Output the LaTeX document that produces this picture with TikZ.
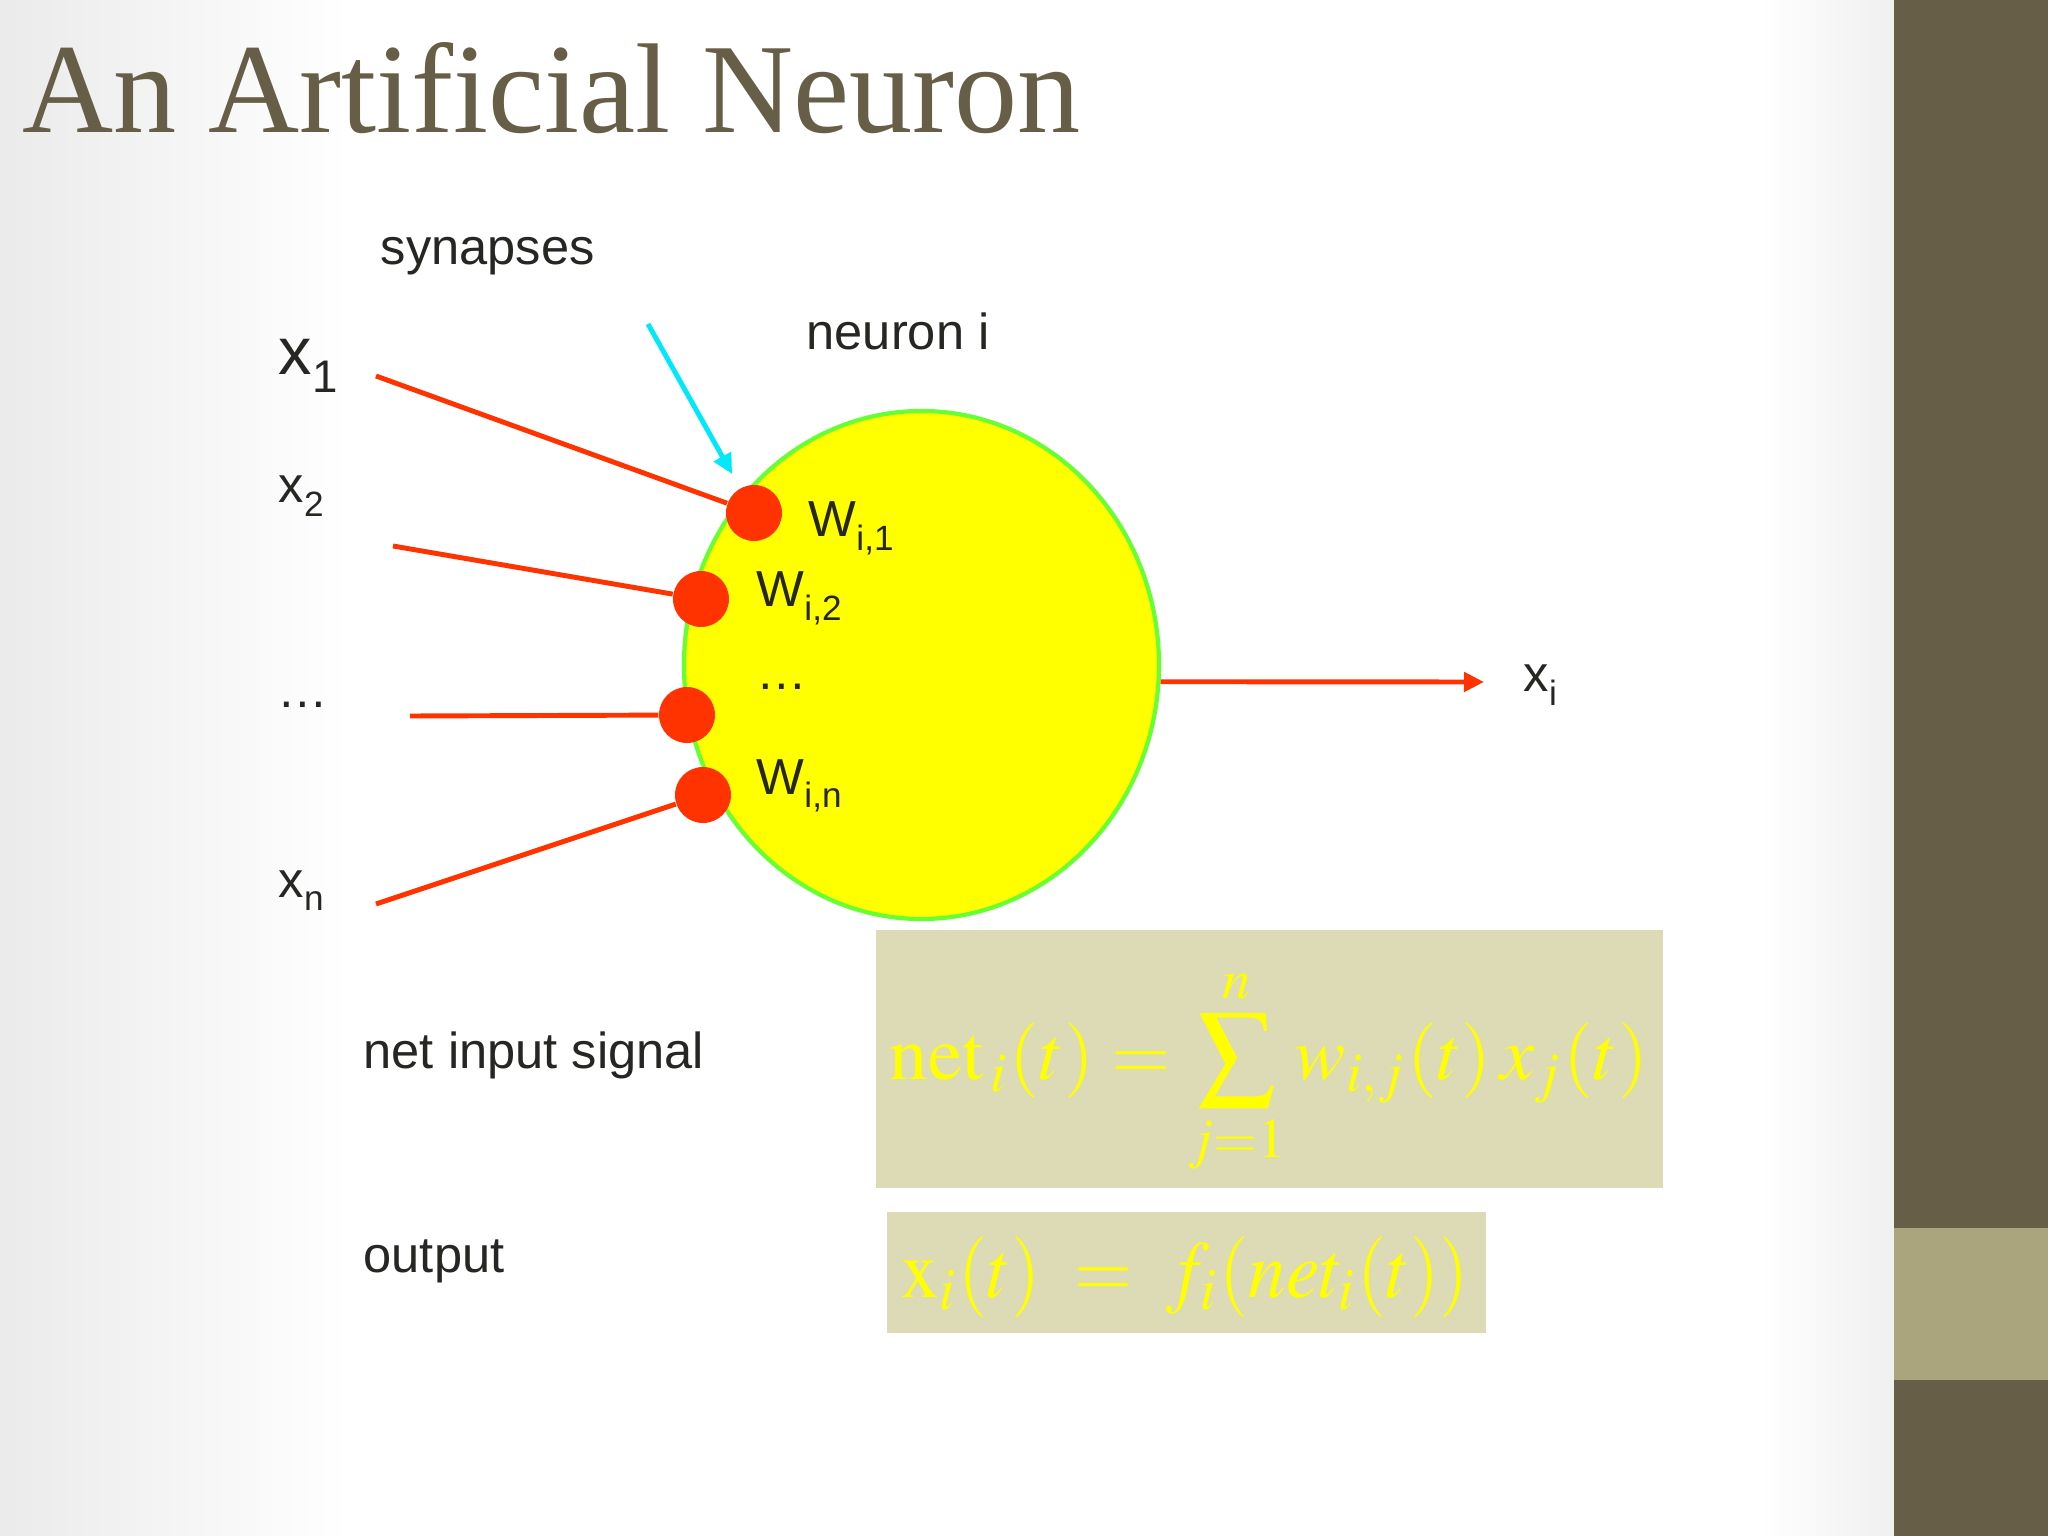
\documentclass[tikz,border=0pt]{standalone}
\usepackage{mathptmx}
\usepackage[no-math]{fontspec}
\usepackage{graphicx}
\setmainfont{Liberation Sans}
\newfontfamily\titlefont{Liberation Serif}
\usetikzlibrary{shapes.geometric, arrows.meta}

\definecolor{slidebrown}{RGB}{103,94,72}
\definecolor{slidetan}{RGB}{171,165,126}
\definecolor{signalred}{RGB}{255,51,0}
\definecolor{somagreen}{RGB}{102,255,51}
\definecolor{pointcyan}{RGB}{0,232,250}
\definecolor{boxkhaki}{RGB}{221,219,182}
\definecolor{inktext}{RGB}{38,38,34}
\definecolor{somayellow}{RGB}{255,255,0}

% lowered index for the plain labels
\newcommand{\low}[2][10]{\raisebox{-0.14cm}{\fontsize{#1}{#1}\selectfont #2}}

\tikzset{
    >={Triangle[length=0.2cm, width=0.19cm]},   % filled arrow heads
    lbl/.style={anchor=base west, inner sep=0pt, text=inktext,
        font=\fontsize{14.4}{17}\selectfont},   % plain labels
    synapse/.style={circle, fill=signalred, minimum size=0.56cm, inner sep=0pt},
    soma/.style={ellipse, draw=somagreen, line width=1.2pt, fill=somayellow,
        minimum width=4.75cm, minimum height=5.08cm, inner sep=0pt},
    signal/.style={draw=signalred, line width=1.4pt},
    pointer/.style={draw=pointcyan, line width=1.4pt, ->},
    fmlbox/.style={fill=boxkhaki, inner sep=0pt},
    fml/.style={text=somayellow, inner sep=0pt},
}

\begin{document}
\begin{tikzpicture}

\useasboundingbox (0,0) rectangle (20.48,-15.36);

% slide background
\fill[white] (0,0) rectangle (18.94,-15.36);
\shade[left color=black!8, right color=white] (0,0) rectangle (3.5,-15.36);
\shade[left color=white, right color=black!6] (17.6,0) rectangle (18.94,-15.36);
\fill[slidebrown] (18.94,0) rectangle (20.48,-15.36);
\fill[slidetan] (18.94,-12.28) rectangle (20.48,-13.80);

\node[anchor=base west, inner sep=0pt, text=slidebrown] (title) at (0.22,-1.33)
    {\resizebox{10.58cm}{0.90cm}{\titlefont An Artificial Neuron}};

\node[lbl] (synlbl) at (3.80,-2.65) {synapses};
\node[lbl] (neulbl) at (8.06,-3.50) {neuron i};

% inputs
\node[lbl, font=\fontsize{19}{22}\selectfont] (x1) at (2.78,-3.75) {x\raisebox{-0.18cm}{\fontsize{13}{13}\selectfont 1}};
\node[lbl] (x2) at (2.78,-5.03) {x\low{2}};
\node[lbl] (xdots) at (2.77,-7.08) {…};
\node[lbl] (xn) at (2.78,-8.97) {x\low{n}};

\node[soma] (soma) at (9.215,-6.65) {};

\node[synapse] (syn1) at (7.54,-5.13) {};
\node[synapse] (syn2) at (7.01,-5.99) {};
\node[synapse] (syn3) at (6.87,-7.15) {};
\node[synapse] (syn4) at (7.03,-7.95) {};

\node[lbl] (w1) at (8.08,-5.37) {W\low{i,1}};
\node[lbl] (w2) at (7.56,-6.07) {W\low{i,2}};
\node[lbl] (wdots) at (7.56,-6.90) {…};
\node[lbl] (wn) at (7.56,-7.94) {W\low{i,n}};

\coordinate (in1) at (3.76,-3.76);
\coordinate (in2) at (3.93,-5.46);
\coordinate (in3) at (4.10,-7.16);
\coordinate (in4) at (3.76,-9.04);
\coordinate (synstart) at (6.48,-3.24);
\coordinate (out) at (14.84,-6.82);

\draw[signal] (in1) -- (syn1);
\draw[signal] (in2) -- (syn2);
\draw[signal] (in3) -- (syn3);
\draw[signal] (in4) -- (syn4);
\draw[pointer, shorten >=0.16cm] (synstart) -- (syn1);
\draw[signal, ->] (soma.-4) -- (out);

\node[lbl] (xi) at (15.23,-6.92) {x\low{i}};

% formulas
\node[lbl] (netlbl) at (3.63,-10.68) {net input signal};
\node[lbl] (outlbl) at (3.63,-12.72) {output};

\node[fmlbox, minimum width=7.87cm, minimum height=2.58cm] (netbox) at (12.695,-10.59) {};
\node[fml] (netfml) at (12.69,-10.72)
    {\resizebox*{7.58cm}{2.10cm}{$\displaystyle \mathrm{net}_{\,i}(t)=\sum_{j=1}^{n} w_{i,j}(t)\,x_{j}(t)$}};

\node[fmlbox, minimum width=5.99cm, minimum height=1.21cm] (outbox) at (11.865,-12.725) {};
\node[fml] (outfml) at (11.855,-12.775)
    {\resizebox*{5.67cm}{0.81cm}{$\mathrm{x}_{i}(t)\;=\;f_{i}(net_{i}(t))$}};

\end{tikzpicture}
\end{document}
